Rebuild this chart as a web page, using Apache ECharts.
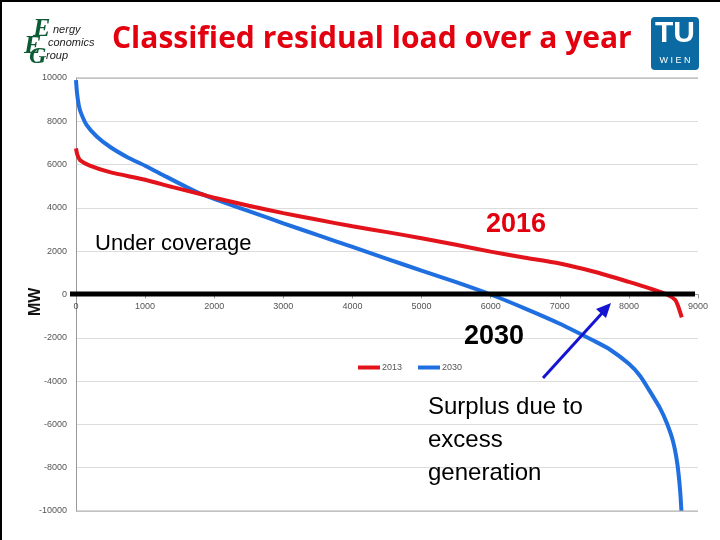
<!DOCTYPE html>
<html>
<head>
<meta charset="utf-8">
<script src="https://cdn.jsdelivr.net/npm/echarts@6/dist/echarts.min.js"></script>
<style>
html,body{margin:0;padding:0;background:#fff;}
#c{width:720px;height:540px;}
</style>
</head>
<body>
<div id="c"></div>
<script>
// ---- data (hours of year, MW) ----
const hours2013 = [0, 20, 60, 200, 490, 1000, 1400, 1800, 2000, 2500, 3000, 3500, 4000, 4500, 5000, 5500, 6000, 6500, 7000, 7500, 8000, 8300, 8550, 8670, 8710, 8740, 8765];
const load2013  = [6750, 6450, 6200, 5950, 5650, 5300, 4960, 4640, 4470, 4100, 3760, 3450, 3150, 2880, 2600, 2300, 1980, 1700, 1430, 1050, 580, 280, 0, -250, -520, -800, -1060];
const hours2030 = [0, 15, 40, 70, 150, 300, 500, 750, 1000, 1300, 1600, 1800, 2100, 2500, 3000, 3500, 4000, 4500, 5000, 5500, 6000, 6500, 7000, 7500, 7730, 8000, 8160, 8300, 8450, 8550, 8640, 8700, 8740, 8760];
const load2030  = [9900, 9300, 8750, 8400, 7850, 7300, 6800, 6330, 5950, 5450, 4960, 4660, 4300, 3850, 3290, 2740, 2200, 1650, 1100, 570, 0, -650, -1350, -2150, -2550, -3200, -3750, -4450, -5250, -5950, -6800, -7800, -9000, -10000];
const seriesNames = ['2013', '2030'];
const titleText = 'Classified residual load over a year';
const yAxisName = 'MW';
const notes = ['Under coverage', '2016', '2030', 'Surplus due to', 'excess', 'generation'];

const zip = (xs, ys) => xs.map((x, i) => [x, ys[i]]);

const gridTop = 78, gridBottom = 29, H = 540;
const zeroOffset = -(H - gridTop - gridBottom) / 2;

const chart = echarts.init(document.getElementById('c'), null, {renderer: 'canvas'});
const option = {
  animation: false,
  backgroundColor: '#ffffff',
  grid: {left: 76, right: 22, top: gridTop, bottom: gridBottom, containLabel: false},
  xAxis: {
    type: 'value', min: 0, max: 9000, interval: 1000, position: 'bottom', offset: zeroOffset,
    axisLine: {onZero: false, lineStyle: {color: '#999', width: 1}},
    axisTick: {show: true, length: 4, inside: false, lineStyle: {color: '#999'}},
    axisLabel: {color: '#555', fontSize: 9, fontFamily: 'Liberation Sans', margin: 8, formatter: v => String(v)},
    splitLine: {show: false}
  },
  yAxis: {
    type: 'value', min: -10000, max: 10000, interval: 2000,
    axisLine: {show: true, lineStyle: {color: '#999', width: 1}},
    axisTick: {show: false},
    axisLabel: {color: '#555', fontSize: 9, fontFamily: 'Liberation Sans', margin: 9, formatter: v => String(v)},
    splitLine: {show: true, lineStyle: {color: '#dcdcdc', width: 1}}
  },
  legend: {
    show: true, left: 353, top: 358, itemWidth: 22, itemHeight: 4, itemGap: 16,
    icon: 'rect',
    textStyle: {color: '#555', fontSize: 9, fontFamily: 'Liberation Sans', padding: [0, 0, 0, -3]},
    data: seriesNames
  },
  series: [
    {name: seriesNames[0], type: 'line', data: zip(hours2013, load2013), smooth: 0.25, showSymbol: false,
     lineStyle: {color: '#e3131b', width: 4}, itemStyle: {color: '#e3131b'}, z: 3},
    {name: seriesNames[1], type: 'line', data: zip(hours2030, load2030), smooth: 0.25, showSymbol: false,
     lineStyle: {color: '#1f6fe0', width: 4}, itemStyle: {color: '#1f6fe0'}, z: 2}
  ]
};
chart.setOption(option);

const y0 = chart.convertToPixel({gridIndex: 0}, [0, 0])[1];
const yTop = chart.convertToPixel({gridIndex: 0}, [0, 10000])[1];
const yBot = chart.convertToPixel({gridIndex: 0}, [0, -10000])[1];
const xL = chart.convertToPixel({gridIndex: 0}, [0, 0])[0];
const xR = chart.convertToPixel({gridIndex: 0}, [9000, 0])[0];

const green = '#0d5b35';
chart.setOption({
  graphic: [
    // slide border
    {type: 'line', shape: {x1: 0, y1: 1, x2: 720, y2: 1}, style: {stroke: '#000', lineWidth: 2}, z: 100},
    {type: 'line', shape: {x1: 1, y1: 0, x2: 1, y2: 540}, style: {stroke: '#000', lineWidth: 2}, z: 100},
    // darker top and bottom grid lines
    {type: 'line', shape: {x1: xL, y1: yTop, x2: xR, y2: yTop}, style: {stroke: '#aaa', lineWidth: 1}, z: 50},
    {type: 'line', shape: {x1: xL, y1: yBot, x2: xR, y2: yBot}, style: {stroke: '#aaa', lineWidth: 1}, z: 50},
    // thick zero line
    {type: 'line', shape: {x1: 70, y1: y0 - 0.5, x2: 695, y2: y0 - 0.5}, style: {stroke: '#000', lineWidth: 5}, z: 60},
    // title
    {type: 'text', left: 112, top: 24, style: {text: titleText, fill: '#e3000f', font: 'bold 30px "Open Sans", "Liberation Sans"'}, z: 100},
    // y axis name
    {type: 'text', x: 28, y: 316, rotation: Math.PI / 2, style: {text: yAxisName, fill: '#111', font: 'bold 16px "Liberation Sans"'}, z: 100},
    // EEG logo
    {type: 'text', x: 33, y: 16, style: {text: 'E', fill: green, font: 'italic bold 26px "Liberation Serif"'}, z: 100},
    {type: 'text', x: 24, y: 33, style: {text: 'E', fill: green, font: 'italic bold 26px "Liberation Serif"'}, z: 100},
    {type: 'text', x: 29, y: 45, style: {text: 'G', fill: green, font: 'italic bold 24px "Liberation Serif"'}, z: 100},
    {type: 'text', x: 53, y: 24, style: {text: 'nergy', fill: '#222', font: 'italic 11px "Liberation Sans"'}, z: 100},
    {type: 'text', x: 48, y: 37, style: {text: 'conomics', fill: '#222', font: 'italic 11px "Liberation Sans"'}, z: 100},
    {type: 'text', x: 46, y: 50, style: {text: 'roup', fill: '#222', font: 'italic 11px "Liberation Sans"'}, z: 100},
    // TU WIEN logo
    {type: 'rect', shape: {x: 651, y: 17, width: 48, height: 53, r: 4}, style: {fill: '#0a6aa1'}, z: 100},
    {type: 'text', x: 675, y: 19, style: {text: 'TU', fill: '#fff', align: 'center', font: 'bold 30px "Liberation Sans"'}, z: 101},
    {type: 'text', x: 675, y: 56, style: {text: 'W I E N', fill: '#fff', align: 'center', font: '9px "Liberation Sans"'}, z: 101},
    // annotations
    {type: 'text', x: 95, y: 233, style: {text: notes[0], fill: '#000', font: '22px "Liberation Sans"'}, z: 100},
    {type: 'text', x: 486, y: 211, style: {text: notes[1], fill: '#e3000f', font: 'bold 27px "Liberation Sans"'}, z: 100},
    {type: 'text', x: 464, y: 323, style: {text: notes[2], fill: '#000', font: 'bold 27px "Liberation Sans"'}, z: 100},
    {type: 'text', x: 428, y: 391, style: {text: notes[3] + '\n' + notes[4] + '\n' + notes[5], fill: '#000', font: '24px "Liberation Sans"', lineHeight: 33}, z: 100},
    // arrow
    {type: 'line', shape: {x1: 543, y1: 378, x2: 604, y2: 311}, style: {stroke: '#1414d2', lineWidth: 3}, z: 100},
    {type: 'polygon', shape: {points: [[611, 303], [596, 309], [606, 318]]}, style: {fill: '#1414d2'}, z: 100}
  ]
});
</script>
</body>
</html>
